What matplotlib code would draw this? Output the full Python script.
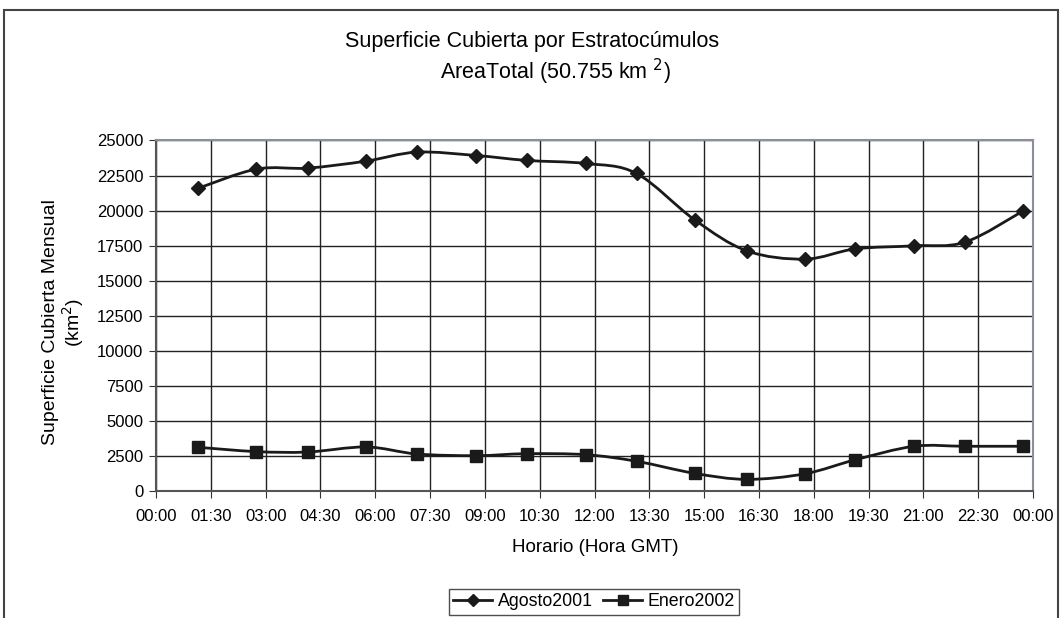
import numpy as np
import matplotlib.pyplot as plt
from matplotlib.path import Path
from matplotlib.patches import PathPatch, Rectangle
from matplotlib.lines import Line2D

plt.rcParams['font.family'] = ['Liberation Sans', 'DejaVu Sans']

horas = [1.14, 2.75, 4.15, 5.75, 7.14, 8.76, 10.14, 11.76,
         13.15, 14.74, 16.17, 17.76, 19.14, 20.75, 22.14, 23.74]
agosto2001 = [21580, 22960, 23030, 23530, 24170, 23930, 23580, 23360,
              22650, 19340, 17130, 16540, 17270, 17490, 17750, 19990]
enero2002 = [3120, 2810, 2780, 3140, 2640, 2520, 2660, 2590,
             2120, 1260, 830, 1230, 2230, 3190, 3190, 3190]
xtick_labels = ['00:00', '01:30', '03:00', '04:30', '06:00', '07:30', '09:00', '10:30',
                '12:00', '13:30', '15:00', '16:30', '18:00', '19:30', '21:00', '22:30', '00:00']


def smooth_path(x, y):
    """Excel-like smoothed line: Catmull-Rom segments as cubic Bezier curves."""
    pts = np.column_stack([x, y]).astype(float)
    ext = np.vstack([pts[0], pts, pts[-1]])
    verts = [pts[0]]
    codes = [Path.MOVETO]
    for i in range(1, len(ext) - 2):
        p0, p1, p2, p3 = ext[i - 1], ext[i], ext[i + 1], ext[i + 2]
        verts += [p1 + (p2 - p0) / 6, p2 - (p3 - p1) / 6, p2]
        codes += [Path.CURVE4] * 3
    return Path(verts, codes)


fig = plt.figure(figsize=(10.62, 6.18), dpi=100)

# outer chart border
fig.patches.append(Rectangle((4 / 1062, -0.05), 1054 / 1062, 1.05 - 10 / 618,
                             transform=fig.transFigure, fill=False,
                             edgecolor='#444444', linewidth=1.5))

ax = fig.add_axes([156 / 1062, 127 / 618, 877 / 1062, 350.5 / 618])

for vals, marker, ms in [(agosto2001, 'D', 7), (enero2002, 's', 8)]:
    ax.add_patch(PathPatch(smooth_path(horas, vals), facecolor='none',
                           edgecolor='#1a1a1a', linewidth=2, zorder=3))
    ax.plot(horas, vals, linestyle='none', marker=marker, markersize=ms,
            color='#1a1a1a', zorder=4)

ax.set_xlim(0, 24)
ax.set_ylim(0, 25000)
ax.set_xticks(np.arange(0, 24.01, 1.5))
ax.set_xticklabels(xtick_labels)
ax.set_yticks(np.arange(0, 25001, 2500))
ax.grid(True, color='#222222', linewidth=1)
ax.set_axisbelow(True)
ax.tick_params(axis='both', labelsize=12, direction='out', length=5, color='#333333')
ax.tick_params(axis='x', pad=8)
ax.tick_params(axis='y', pad=4)
for sp in ax.spines.values():
    sp.set_color('#8a8f99')
    sp.set_linewidth(1.5)
ax.spines['left'].set_color('#555555')
ax.spines['bottom'].set_color('#555555')

fig.text(595 / 1062, 1 - 548 / 618, 'Horario (Hora GMT)',
         ha='center', va='center', fontsize=13.5)
fig.text(64 / 1062, 1 - 322 / 618, 'Superficie Cubierta Mensual\n(km$^2$)',
         ha='center', va='center', rotation=90, fontsize=14, linespacing=1.05)

fig.text(532 / 1062, 1 - 42 / 618, 'Superficie Cubierta por Estratocúmulos',
         ha='center', va='center', fontsize=15.5)
fig.text(555 / 1062, 1 - 72 / 618, 'AreaTotal (50.755 km $^2$)',
         ha='center', va='center', fontsize=15.5)

handles = [Line2D([], [], color='#1a1a1a', linewidth=2, marker='D', markersize=6),
           Line2D([], [], color='#1a1a1a', linewidth=2, marker='s', markersize=7)]
leg = fig.legend(handles, ['Agosto2001', 'Enero2002'], loc='center',
                 bbox_to_anchor=(594 / 1062, 1 - 602 / 618), ncol=2, fontsize=12.8,
                 frameon=True, fancybox=False, handlelength=2.2, handletextpad=0.3,
                 columnspacing=0.6, borderpad=0.25)
leg.get_frame().set_edgecolor('#222222')
leg.get_frame().set_linewidth(1)

fig.savefig('out.png', dpi=100)
